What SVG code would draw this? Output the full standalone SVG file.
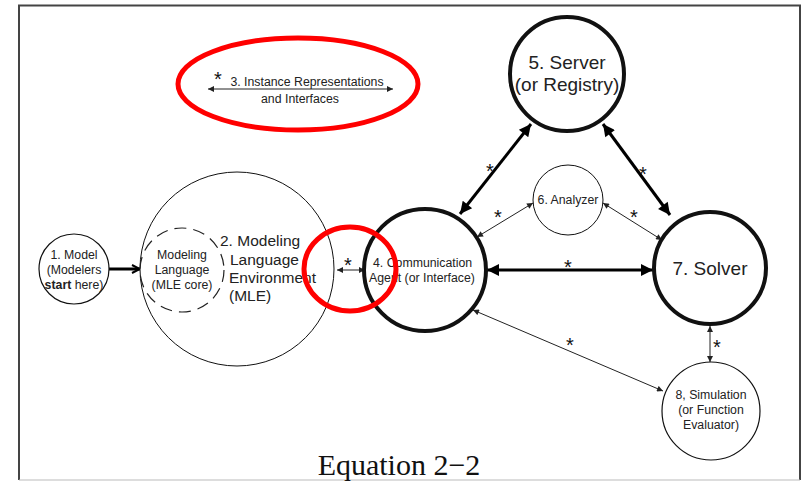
<svg xmlns="http://www.w3.org/2000/svg" width="804" height="481" viewBox="0 0 804 481">
  <style>
    .lbl { font-family: "Liberation Sans", Arial, sans-serif; fill: #222; }
    .sm { font-size: 12.3px; }
    .node { fill: #fff; stroke: #111; }
    .thin { stroke: #222; stroke-width: 1; fill: none; }
    .thick { stroke: #000; stroke-width: 3; fill: none; }
    .star { font-family: "Liberation Sans", Arial, sans-serif; font-size: 20px; fill: #111; text-anchor: middle; }
    .mark { fill: none; stroke: #f00; stroke-width: 5; }
  </style>
  <defs>
    <marker id="hs" viewBox="0 0 10 10" refX="10" refY="5" markerWidth="8" markerHeight="6" orient="auto-start-reverse" markerUnits="userSpaceOnUse">
      <path d="M0,0 L10,5 L0,10 z" fill="#222"/>
    </marker>
    <marker id="hb" viewBox="0 0 10 10" refX="10" refY="5" markerWidth="18" markerHeight="12" orient="auto-start-reverse" markerUnits="userSpaceOnUse">
      <path d="M0,0 L10,5 L0,10 z" fill="#000"/>
    </marker>
    <marker id="ho" viewBox="0 0 10 10" refX="9" refY="5" markerWidth="10" markerHeight="12" orient="auto" markerUnits="userSpaceOnUse">
      <path d="M1,1 L9,5 L1,9" fill="none" stroke="#000" stroke-width="2"/>
    </marker>
  </defs>

  <!-- page frame -->
  <rect x="0" y="0" width="804" height="481" fill="#fff"/>
  <path d="M19,480 V5.5 H800 V480" fill="none" stroke="#444" stroke-width="2"/>
  <line x1="19" y1="480" x2="800" y2="480" stroke="#bbb" stroke-width="1"/>

  <!-- connectors -->
  <g id="connectors">
    <line class="thick" x1="109" y1="269" x2="140" y2="269" stroke-width="2.5" marker-end="url(#ho)"/>
    <line class="thin" x1="208" y1="89" x2="393" y2="89" marker-start="url(#hs)" marker-end="url(#hs)"/>
    <line class="thin" x1="337" y1="270" x2="365" y2="270" marker-start="url(#hs)" marker-end="url(#hs)"/>
    <line class="thick" x1="460" y1="214" x2="531" y2="124" marker-start="url(#hb)" marker-end="url(#hb)"/>
    <line class="thick" x1="603" y1="124" x2="670" y2="215" marker-start="url(#hb)" marker-end="url(#hb)"/>
    <line class="thick" x1="487" y1="270" x2="653" y2="270" marker-start="url(#hb)" marker-end="url(#hb)"/>
    <line class="thin" x1="477" y1="237" x2="533" y2="203" marker-start="url(#hs)" marker-end="url(#hs)"/>
    <line class="thin" x1="603" y1="203" x2="662" y2="240" marker-start="url(#hs)" marker-end="url(#hs)"/>
    <line class="thin" x1="473" y1="310" x2="663" y2="391" marker-start="url(#hs)" marker-end="url(#hs)"/>
    <line class="thin" x1="710" y1="326" x2="710" y2="362" marker-start="url(#hs)" marker-end="url(#hs)"/>
    <text class="star" x="218" y="86">*</text>
    <text class="star" x="348" y="272">*</text>
    <text class="star" x="490" y="178">*</text>
    <text class="star" x="643" y="181">*</text>
    <text class="star" x="568" y="274">*</text>
    <text class="star" x="498" y="224">*</text>
    <text class="star" x="634" y="224">*</text>
    <text class="star" x="570" y="352">*</text>
    <text class="star" x="717" y="354">*</text>
  </g>

  <!-- 3. instance representations label -->
  <g id="n3">
    <text class="lbl sm" x="307" y="86" text-anchor="middle">3. Instance Representations</text>
    <text class="lbl sm" x="300" y="103" text-anchor="middle">and Interfaces</text>
  </g>

  <g id="n1">
    <circle class="node" cx="74" cy="269" r="35" stroke-width="1.2"/>
    <text class="lbl sm" x="74" y="259" text-anchor="middle">1. Model</text>
    <text class="lbl sm" x="74" y="274" text-anchor="middle">(Modelers</text>
    <text class="lbl sm" x="74" y="289" text-anchor="middle"><tspan font-weight="bold">start</tspan> here)</text>
  </g>

  <g id="n2">
    <circle class="node" cx="237" cy="269" r="97" stroke-width="1"/>
    <circle cx="182" cy="270" r="42" fill="none" stroke="#222" stroke-width="1.2" stroke-dasharray="12,7"/>
    <text class="lbl sm" x="182" y="259" text-anchor="middle">Modeling</text>
    <text class="lbl sm" x="182" y="274" text-anchor="middle">Language</text>
    <text class="lbl sm" x="182" y="289" text-anchor="middle">(MLE core)</text>
    <text class="lbl" font-size="15.5" x="220" y="246">2. Modeling</text>
    <text class="lbl" font-size="15.5" x="230" y="265">Language</text>
    <text class="lbl" font-size="15.5" x="229" y="283">Environment</text>
    <text class="lbl" font-size="15.5" x="229" y="301">(MLE)</text>
  </g>

  <g id="n4">
    <circle class="node" cx="425" cy="270" r="61" stroke-width="4"/>
    <text class="lbl sm" x="373" y="267">4. Communication</text>
    <text class="lbl sm" x="369" y="282">Agent (or Interface)</text>
  </g>

  <g id="n5">
    <circle class="node" cx="567" cy="74" r="57" stroke-width="4"/>
    <text class="lbl" font-size="19" x="567" y="69" text-anchor="middle">5. Server</text>
    <text class="lbl" font-size="19" x="567" y="91" text-anchor="middle">(or Registry)</text>
  </g>

  <g id="n6">
    <circle class="node" cx="568" cy="200" r="35" stroke-width="1"/>
    <text class="lbl sm" x="568" y="204" text-anchor="middle">6. Analyzer</text>
  </g>

  <g id="n7">
    <circle class="node" cx="710" cy="268" r="56" stroke-width="4"/>
    <text class="lbl" font-size="19" x="710" y="275" text-anchor="middle">7. Solver</text>
  </g>

  <g id="n8">
    <circle class="node" cx="711" cy="411" r="49" stroke-width="1.2"/>
    <text class="lbl sm" x="711" y="399" text-anchor="middle">8, Simulation</text>
    <text class="lbl sm" x="711" y="414" text-anchor="middle">(or Function</text>
    <text class="lbl sm" x="711" y="429" text-anchor="middle">Evaluator)</text>
  </g>

  <!-- caption -->
  <text x="399" y="475" text-anchor="middle" font-family="Liberation Serif, 'Times New Roman', serif" font-size="30" fill="#111">Equation 2−2</text>

  <!-- red highlight rings -->
  <ellipse class="mark" cx="298" cy="84" rx="120" ry="46"/>
  <ellipse class="mark" cx="350" cy="269" rx="46" ry="42"/>
</svg>
